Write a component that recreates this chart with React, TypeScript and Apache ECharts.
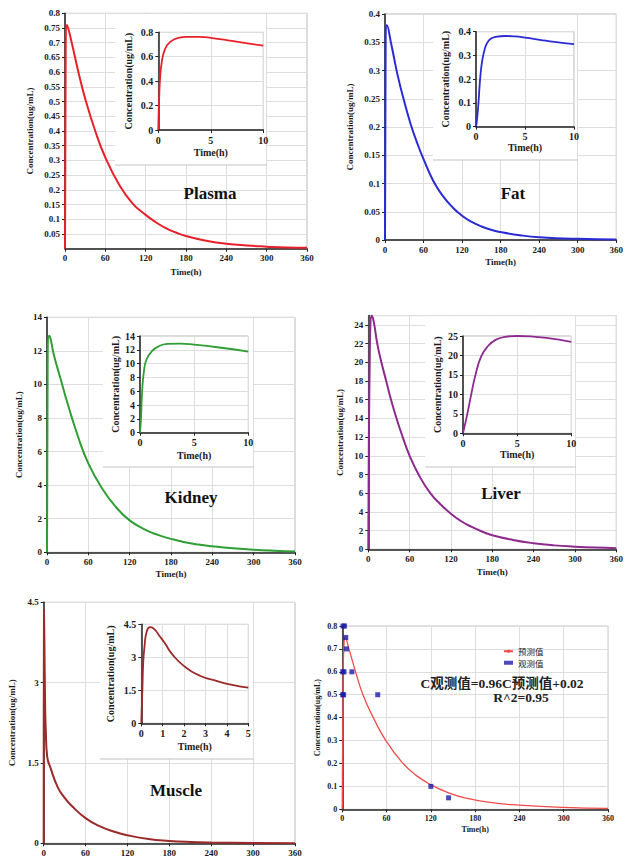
import React, { useEffect, useRef } from "react";
import * as echarts from "echarts";

// ---------- data ----------
const plasmaT = [0, 1, 3, 10, 20, 30, 45, 60, 80, 100, 120, 135, 150, 165, 180, 210, 240, 270, 300, 330, 360];
const plasmaC = [0, 0.66, 0.76, 0.7, 0.6, 0.51, 0.4, 0.31, 0.22, 0.155, 0.115, 0.09, 0.07, 0.055, 0.043, 0.027, 0.017, 0.011, 0.007, 0.004, 0.003];
const plasmaInsetT = [0, 0.05, 0.1, 0.16, 0.32, 0.63, 1.1, 1.9, 2.7, 4, 5, 7, 8.5, 10];
const plasmaInsetC = [0, 0.18, 0.3, 0.41, 0.55, 0.66, 0.72, 0.755, 0.762, 0.762, 0.755, 0.73, 0.71, 0.69];

const fatT = [0, 1, 3, 10, 20, 30, 40, 50, 60, 75, 90, 105, 120, 135, 150, 165, 180, 210, 240, 300, 360];
const fatC = [0, 0.35, 0.38, 0.345, 0.29, 0.245, 0.205, 0.172, 0.143, 0.105, 0.078, 0.058, 0.043, 0.032, 0.024, 0.018, 0.014, 0.0085, 0.005, 0.002, 0.001];
const fatInsetT = [0, 0.1, 0.25, 0.4, 0.6, 0.85, 1.1, 1.5, 2, 3, 4, 5, 6.5, 8, 10];
const fatInsetC = [0, 0.03, 0.1, 0.19, 0.27, 0.32, 0.35, 0.37, 0.378, 0.382, 0.38, 0.375, 0.366, 0.357, 0.348];

const kidneyT = [0, 1, 3, 5, 10, 20, 30, 45, 60, 80, 100, 120, 140, 160, 180, 200, 220, 240, 270, 300, 330, 360];
const kidneyC = [0, 11.8, 12.9, 12.75, 11.75, 10.3, 8.85, 6.9, 5.3, 3.8, 2.7, 1.9, 1.4, 1.05, 0.8, 0.6, 0.46, 0.36, 0.24, 0.15, 0.09, 0.05];
const kidneyInsetT = [0, 0.09, 0.2, 0.37, 0.6, 1.1, 1.7, 2.5, 3.7, 5, 7.5, 10];
const kidneyInsetC = [0, 2, 6, 9, 10.6, 11.8, 12.5, 12.85, 12.9, 12.75, 12.3, 11.75];

const liverT = [0, 1, 2, 3, 5, 8, 13, 19, 26, 33, 41, 50, 60, 73, 90, 105, 120, 135, 150, 165, 180, 210, 240, 270, 300, 330, 360];
const liverC = [0, 13, 19.7, 24, 25, 24.3, 22, 20, 18, 16, 14, 12, 10, 8, 6, 4.8, 3.8, 3.0, 2.4, 1.9, 1.5, 1.0, 0.65, 0.42, 0.28, 0.18, 0.12];
const liverInsetT = [0, 0.4, 0.76, 1.15, 1.67, 2.27, 3, 3.9, 5, 6.2, 7.7, 10];
const liverInsetC = [0, 5, 10, 15, 19.7, 22.3, 24, 24.8, 25, 24.9, 24.5, 23.5];

const muscleT = [0, 0.4, 1, 2, 3, 5, 10, 20, 30, 40, 60, 80, 100, 120, 150, 180, 210, 240, 300, 360];
const muscleC = [0, 4.37, 3.8, 2.6, 2.1, 1.62, 1.4, 1.05, 0.85, 0.7, 0.47, 0.32, 0.22, 0.15, 0.08, 0.045, 0.025, 0.015, 0.005, 0.002];
const muscleInsetT = [0, 0.05, 0.09, 0.15, 0.26, 0.42, 0.62, 0.85, 1.08, 1.46, 2, 2.77, 3.54, 4.3, 5];
const muscleInsetC = [0, 1.5, 2.76, 3.5, 4.2, 4.37, 4.27, 3.97, 3.67, 3.12, 2.6, 2.15, 1.92, 1.73, 1.62];

const predT = [0, 1, 2, 4, 9, 18, 28, 42, 59, 81, 100, 123, 145, 166, 200, 240, 300, 360];
const predC = [0, 0.55, 0.7, 0.75, 0.7, 0.6, 0.5, 0.4, 0.3, 0.205, 0.148, 0.102, 0.071, 0.05, 0.03, 0.018, 0.008, 0.004];
const obsT = [1, 3, 4.7, 5.6, 0.5, 2.3, 13, 0.5, 1.8, 48, 120, 144];
const obsC = [0.8, 0.8, 0.75, 0.7, 0.6, 0.6, 0.6, 0.5, 0.5, 0.5, 0.1, 0.05];

const panelNames = ["Plasma", "Fat", "Kidney", "Liver", "Muscle"];
const legendNames = ["预测值", "观测值"];
const equationText = "C观测值=0.96C预测值+0.02";
const r2Text = "R^2=0.95";
const xName = "Time(h)";
const yName = "Concentration(ug/mL)";

// ---------- helpers ----------
const SERIF = "Liberation Serif";
const CJK = "Liberation Serif, Noto Sans CJK SC";
const TXT = "#1a1a1a";
const SMOOTH = 0.5;

const zip = (t: number[], c: number[]) => t.map((v, i) => [v, c[i]]);

type AxisCfg = {
  max: number;
  interval: number;
  fs: number;
  nameGap: number;
  z: number;
  showName?: boolean;
  hideMin?: boolean;
  hideMax?: boolean;
};

function makeAxis(gi: number, c: AxisCfg, isX: boolean) {
  return {
    type: "value",
    gridIndex: gi,
    min: 0,
    max: c.max,
    interval: c.interval,
    z: c.z,
    name: c.showName === false ? "" : isX ? xName : yName,
    nameLocation: "middle",
    nameGap: c.nameGap,
    nameTextStyle: { fontFamily: SERIF, fontWeight: "bold", fontSize: c.fs, color: TXT },
    axisLine: { show: true, onZero: false, lineStyle: { color: "#222", width: 1.5 } },
    axisTick: { show: true, length: 3, lineStyle: { color: "#222", width: 1 } },
    axisLabel: {
      fontFamily: SERIF,
      fontWeight: "bold",
      fontSize: c.fs,
      color: TXT,
      margin: 5,
      showMinLabel: c.hideMin ? false : true,
      showMaxLabel: c.hideMax ? false : true,
    },
    splitLine: { show: true, lineStyle: { color: "#dedede", width: 1 } },
  };
}

export default function App() {
  const ref = useRef<HTMLDivElement>(null);

  useEffect(() => {
    if (!ref.current) return;
    const chart = echarts.init(ref.current, undefined, { renderer: "svg" });

    const grids: any[] = [];
    const xAxes: any[] = [];
    const yAxes: any[] = [];
    const series: any[] = [];

    const addPanel = (
      g: { left: number; top: number; width: number; height: number },
      x: AxisCfg,
      y: AxisCfg,
      data: number[][],
      color: string,
      width: number,
      inset: boolean,
      border = "#b8b8b8"
    ) => {
      const gi = grids.length;
      grids.push({
        ...g,
        show: true,
        borderColor: border,
        borderWidth: 1,
        backgroundColor: inset ? "#ffffff" : "transparent",
        z: inset ? 6 : 0,
      });
      xAxes.push(makeAxis(gi, x, true));
      yAxes.push(makeAxis(gi, y, false));
      series.push({
        type: "line",
        xAxisIndex: gi,
        yAxisIndex: gi,
        data,
        smooth: SMOOTH,
        symbol: "none",
        lineStyle: { color, width },
        z: inset ? 8 : 2,
        silent: true,
      });
      return gi;
    };

    // Plasma
    addPanel({ left: 65, top: 13.3, width: 242, height: 235.4 },
      { max: 360, interval: 60, fs: 9, nameGap: 19, z: 0 },
      { max: 0.8, interval: 0.05, fs: 9, nameGap: 31, z: 0, hideMin: true },
      zip(plasmaT, plasmaC), "#e8202a", 2, false);
    // Fat
    addPanel({ left: 385, top: 14, width: 232, height: 226 },
      { max: 360, interval: 60, fs: 9, nameGap: 17, z: 0 },
      { max: 0.4, interval: 0.05, fs: 9, nameGap: 31, z: 0 },
      zip(fatT, fatC), "#2b2bd6", 2, false);
    // Kidney
    addPanel({ left: 47, top: 317.3, width: 248, height: 235 },
      { max: 360, interval: 60, fs: 9, nameGap: 17, z: 0 },
      { max: 14, interval: 2, fs: 9, nameGap: 24, z: 0 },
      zip(kidneyT, kidneyC), "#2f9e35", 2, false);
    // Liver
    addPanel({ left: 368.3, top: 315.6, width: 248.7, height: 233.7 },
      { max: 360, interval: 60, fs: 9, nameGap: 18, z: 0 },
      { max: 25, interval: 2, fs: 9, nameGap: 24, z: 0, hideMax: true },
      zip(liverT, liverC), "#8e2a8e", 2, false);
    // Muscle
    addPanel({ left: 43.7, top: 602.3, width: 251.3, height: 241 },
      { max: 360, interval: 60, fs: 9, nameGap: 17, z: 0, showName: false },
      { max: 4.5, interval: 1.5, fs: 9, nameGap: 27, z: 0 },
      zip(muscleT, muscleC), "#9c2a2a", 2, false);

    // Validation panel
    const vi = grids.length;
    grids.push({ left: 342.3, top: 626, width: 265.7, height: 183.3, show: true, borderColor: "#c8c8c8", borderWidth: 1, z: 0 });
    xAxes.push(makeAxis(vi, { max: 360, interval: 60, fs: 8, nameGap: 16, z: 0 }, true));
    yAxes.push(makeAxis(vi, { max: 0.8, interval: 0.1, fs: 8, nameGap: 21, z: 0 }, false));
    series.push({
      name: legendNames[0], type: "line", xAxisIndex: vi, yAxisIndex: vi,
      data: zip(predT, predC), smooth: SMOOTH, symbol: "none",
      lineStyle: { color: "#f04a4a", width: 1.3 }, itemStyle: { color: "#f04a4a" }, z: 2,
    });
    series.push({
      name: legendNames[1], type: "scatter", xAxisIndex: vi, yAxisIndex: vi,
      data: zip(obsT, obsC), symbol: "rect", symbolSize: 5,
      itemStyle: { color: "#1c1ca8" }, z: 3,
    });

    // Insets
    addPanel({ left: 158.3, top: 32.3, width: 105, height: 97.7 },
      { max: 10, interval: 5, fs: 10, nameGap: 17, z: 7 },
      { max: 0.8, interval: 0.2, fs: 10, nameGap: 25, z: 7 },
      zip(plasmaInsetT, plasmaInsetC), "#e8202a", 1.8, true);
    addPanel({ left: 476, top: 31.7, width: 98, height: 95 },
      { max: 10, interval: 5, fs: 10, nameGap: 16, z: 7 },
      { max: 0.4, interval: 0.1, fs: 10, nameGap: 26, z: 7 },
      zip(fatInsetT, fatInsetC), "#2b2bd6", 1.8, true);
    addPanel({ left: 140, top: 336, width: 108.3, height: 96.7 },
      { max: 10, interval: 5, fs: 10, nameGap: 18, z: 7 },
      { max: 14, interval: 2, fs: 10, nameGap: 20, z: 7 },
      zip(kidneyInsetT, kidneyInsetC), "#2f9e35", 1.8, true);
    addPanel({ left: 463, top: 336, width: 108.3, height: 97.3 },
      { max: 10, interval: 5, fs: 10, nameGap: 16, z: 7 },
      { max: 25, interval: 5, fs: 10, nameGap: 21, z: 7 },
      zip(liverInsetT, liverInsetC), "#8e2a8e", 1.8, true);
    addPanel({ left: 141.3, top: 624.3, width: 107, height: 99 },
      { max: 5, interval: 1, fs: 10, nameGap: 18, z: 7 },
      { max: 4.5, interval: 1.5, fs: 10, nameGap: 26, z: 7 },
      zip(muscleInsetT, muscleInsetC), "#9c2a2a", 1.8, true);

    // Inset chart-area boxes
    const boxes = [
      { x: 115, y: 14.5, w: 151, h: 150.5 },
      { x: 433, y: 15, w: 144, h: 145 },
      { x: 103, y: 318, w: 150, h: 149 },
      { x: 425, y: 316.5, w: 150, h: 150.5 },
      { x: 100, y: 603, w: 152.5, h: 156 },
    ];
    const labelPos = [
      [210, 193],
      [513, 193],
      [191, 497],
      [501, 493],
      [176, 790],
    ];

    const elements: any[] = [];
    boxes.forEach((b) => {
      elements.push({
        type: "rect", z: 5, silent: true,
        shape: { x: b.x, y: b.y, width: b.w, height: b.h },
        style: { fill: "#ffffff" },
      });
      elements.push({
        type: "line", z: 5, silent: true,
        shape: { x1: b.x, y1: b.y + b.h, x2: b.x + b.w + 1, y2: b.y + b.h },
        style: { stroke: "#c4c4c4", lineWidth: 1.2 },
      });
    });
    panelNames.forEach((n, i) => {
      elements.push({
        type: "text", z: 9, silent: true,
        x: labelPos[i][0], y: labelPos[i][1],
        style: {
          text: n, fontFamily: SERIF, fontWeight: "bold", fontSize: 17,
          fill: "#111", align: "center", verticalAlign: "middle",
        },
      });
    });
    elements.push({
      type: "text", z: 9, silent: true, x: 502, y: 683,
      style: { text: equationText, fontFamily: CJK, fontWeight: "bold", fontSize: 13.5, fill: "#222", align: "center", verticalAlign: "middle" },
    });
    elements.push({
      type: "text", z: 9, silent: true, x: 521, y: 697,
      style: { text: r2Text, fontFamily: CJK, fontWeight: "bold", fontSize: 13.5, fill: "#222", align: "center", verticalAlign: "middle" },
    });

    chart.setOption({
      animation: false,
      backgroundColor: "#ffffff",
      grid: grids,
      xAxis: xAxes,
      yAxis: yAxes,
      series,
      legend: {
        data: [
          { name: legendNames[0] },
          { name: legendNames[1], icon: "rect" },
        ],
        orient: "vertical",
        left: 503,
        top: 647,
        itemWidth: 9,
        itemHeight: 4,
        itemGap: 3,
        padding: 0,
        selectedMode: false,
        textStyle: { fontFamily: "Noto Sans CJK SC", fontSize: 8.5, color: "#222" },
      },
      graphic: { elements },
    });

    return () => chart.dispose();
  }, []);

  return (
    <div
      ref={ref}
      style={{ position: "absolute", left: 0, top: 0, width: 626, height: 861, background: "#fff" }}
    />
  );
}
